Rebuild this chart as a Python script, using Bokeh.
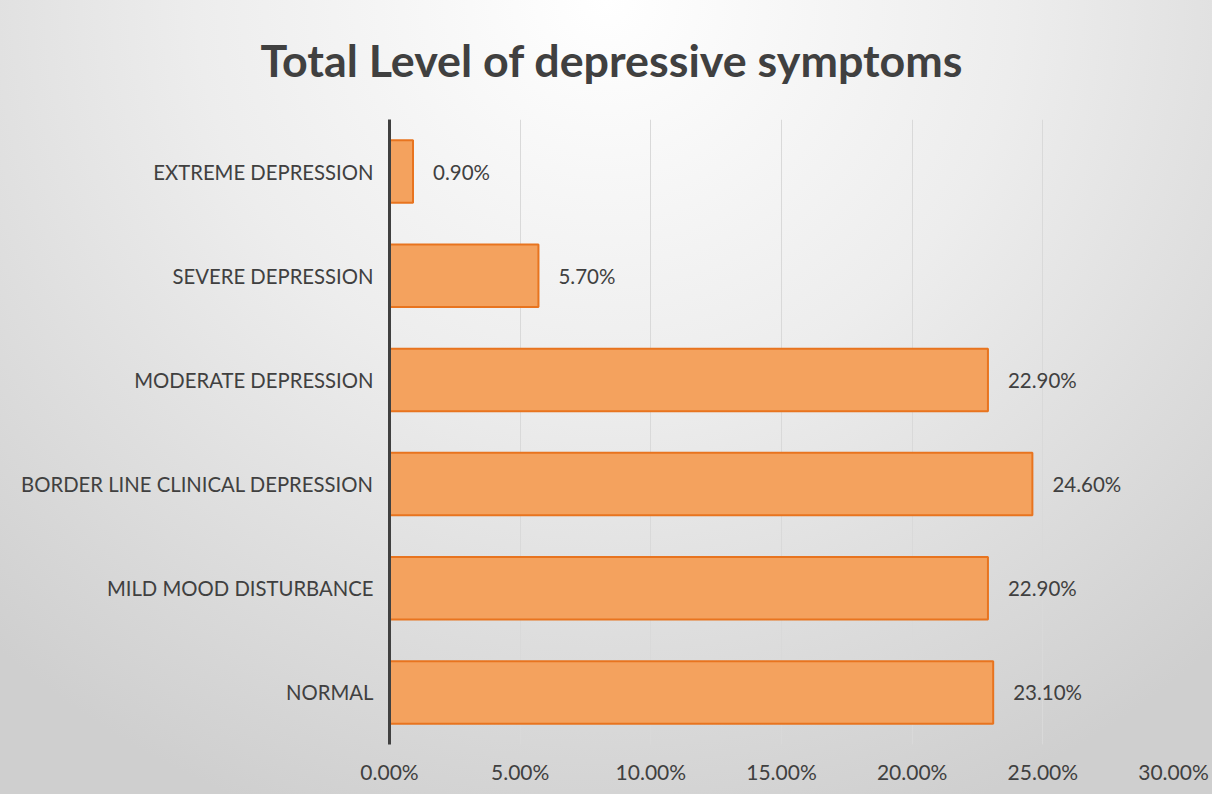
from bokeh.plotting import figure
from bokeh.models import FactorRange, Range1d, FixedTicker, NumeralTickFormatter, ColumnDataSource
from bokeh.core.properties import value
from bokeh.embed import file_html
from bokeh.resources import INLINE

categories = ["NORMAL", "MILD MOOD DISTURBANCE", "BORDER LINE CLINICAL DEPRESSION",
              "MODERATE DEPRESSION", "SEVERE DEPRESSION", "EXTREME DEPRESSION"]
values = [0.231, 0.229, 0.246, 0.229, 0.057, 0.009]
value_labels = ["23.10%", "22.90%", "24.60%", "22.90%", "5.70%", "0.90%"]
x_ticks = [0.0, 0.05, 0.10, 0.15, 0.20, 0.25, 0.30]
title_text = "Total Level of depressive symptoms"

FONT = "Lato"
TXT = "#404040"

src = ColumnDataSource(dict(cat=categories, val=values, lab=value_labels))

p = figure(width=1212, height=794, output_backend="svg", toolbar_location=None,
           title=title_text,
           y_range=FactorRange(*categories, range_padding=0), x_range=Range1d(0, 0.30),
           min_border_left=389, min_border_right=39, min_border_top=119, min_border_bottom=50)
p.styles = {"background-image": "radial-gradient(ellipse 75% 110% at 50% 0%, #ffffff 0%, #ededed 45%, #cfcfcf 100%)"}
p.background_fill_alpha = 0
p.border_fill_alpha = 0
p.outline_line_color = None

p.title.align = "left"
p.title.vertical_align = "top"
p.title.offset = -129
p.title.standoff = 62
p.title.text_font = FONT
p.title.text_font_size = "44.8px"
p.title.text_font_style = "bold"
p.title.text_color = TXT

p.hbar(y="cat", right="val", left=0, height=0.6, source=src,
       fill_color="#f4a25e", line_color="#e8741f", line_width=2)

p.text(x="val", y="cat", text="lab", source=src, x_offset=20,
       text_font=value(FONT), text_font_size="20.5px", text_color=TXT,
       text_align="left", text_baseline="middle")

p.xaxis.ticker = FixedTicker(ticks=x_ticks)
p.xaxis.formatter = NumeralTickFormatter(format="0.00%")
p.xaxis.axis_line_color = None
p.xaxis.major_tick_line_color = None
p.xaxis.minor_tick_line_color = None
p.xaxis.major_label_text_font = FONT
p.xaxis.major_label_text_font_size = "21px"
p.xaxis.major_label_text_color = TXT
p.xaxis.major_label_standoff = 8

p.yaxis.axis_line_color = "#404040"
p.yaxis.axis_line_width = 3
p.yaxis.major_tick_line_color = None
p.yaxis.minor_tick_line_color = None
p.yaxis.major_label_text_font = FONT
p.yaxis.major_label_text_font_size = "20.3px"
p.yaxis.major_label_text_color = TXT
p.yaxis.major_label_standoff = 10

p.ygrid.grid_line_color = None
p.xgrid.grid_line_color = "#d9d9d9"
p.xgrid.grid_line_width = 1

open("out.html", "w").write(file_html(p, INLINE))
